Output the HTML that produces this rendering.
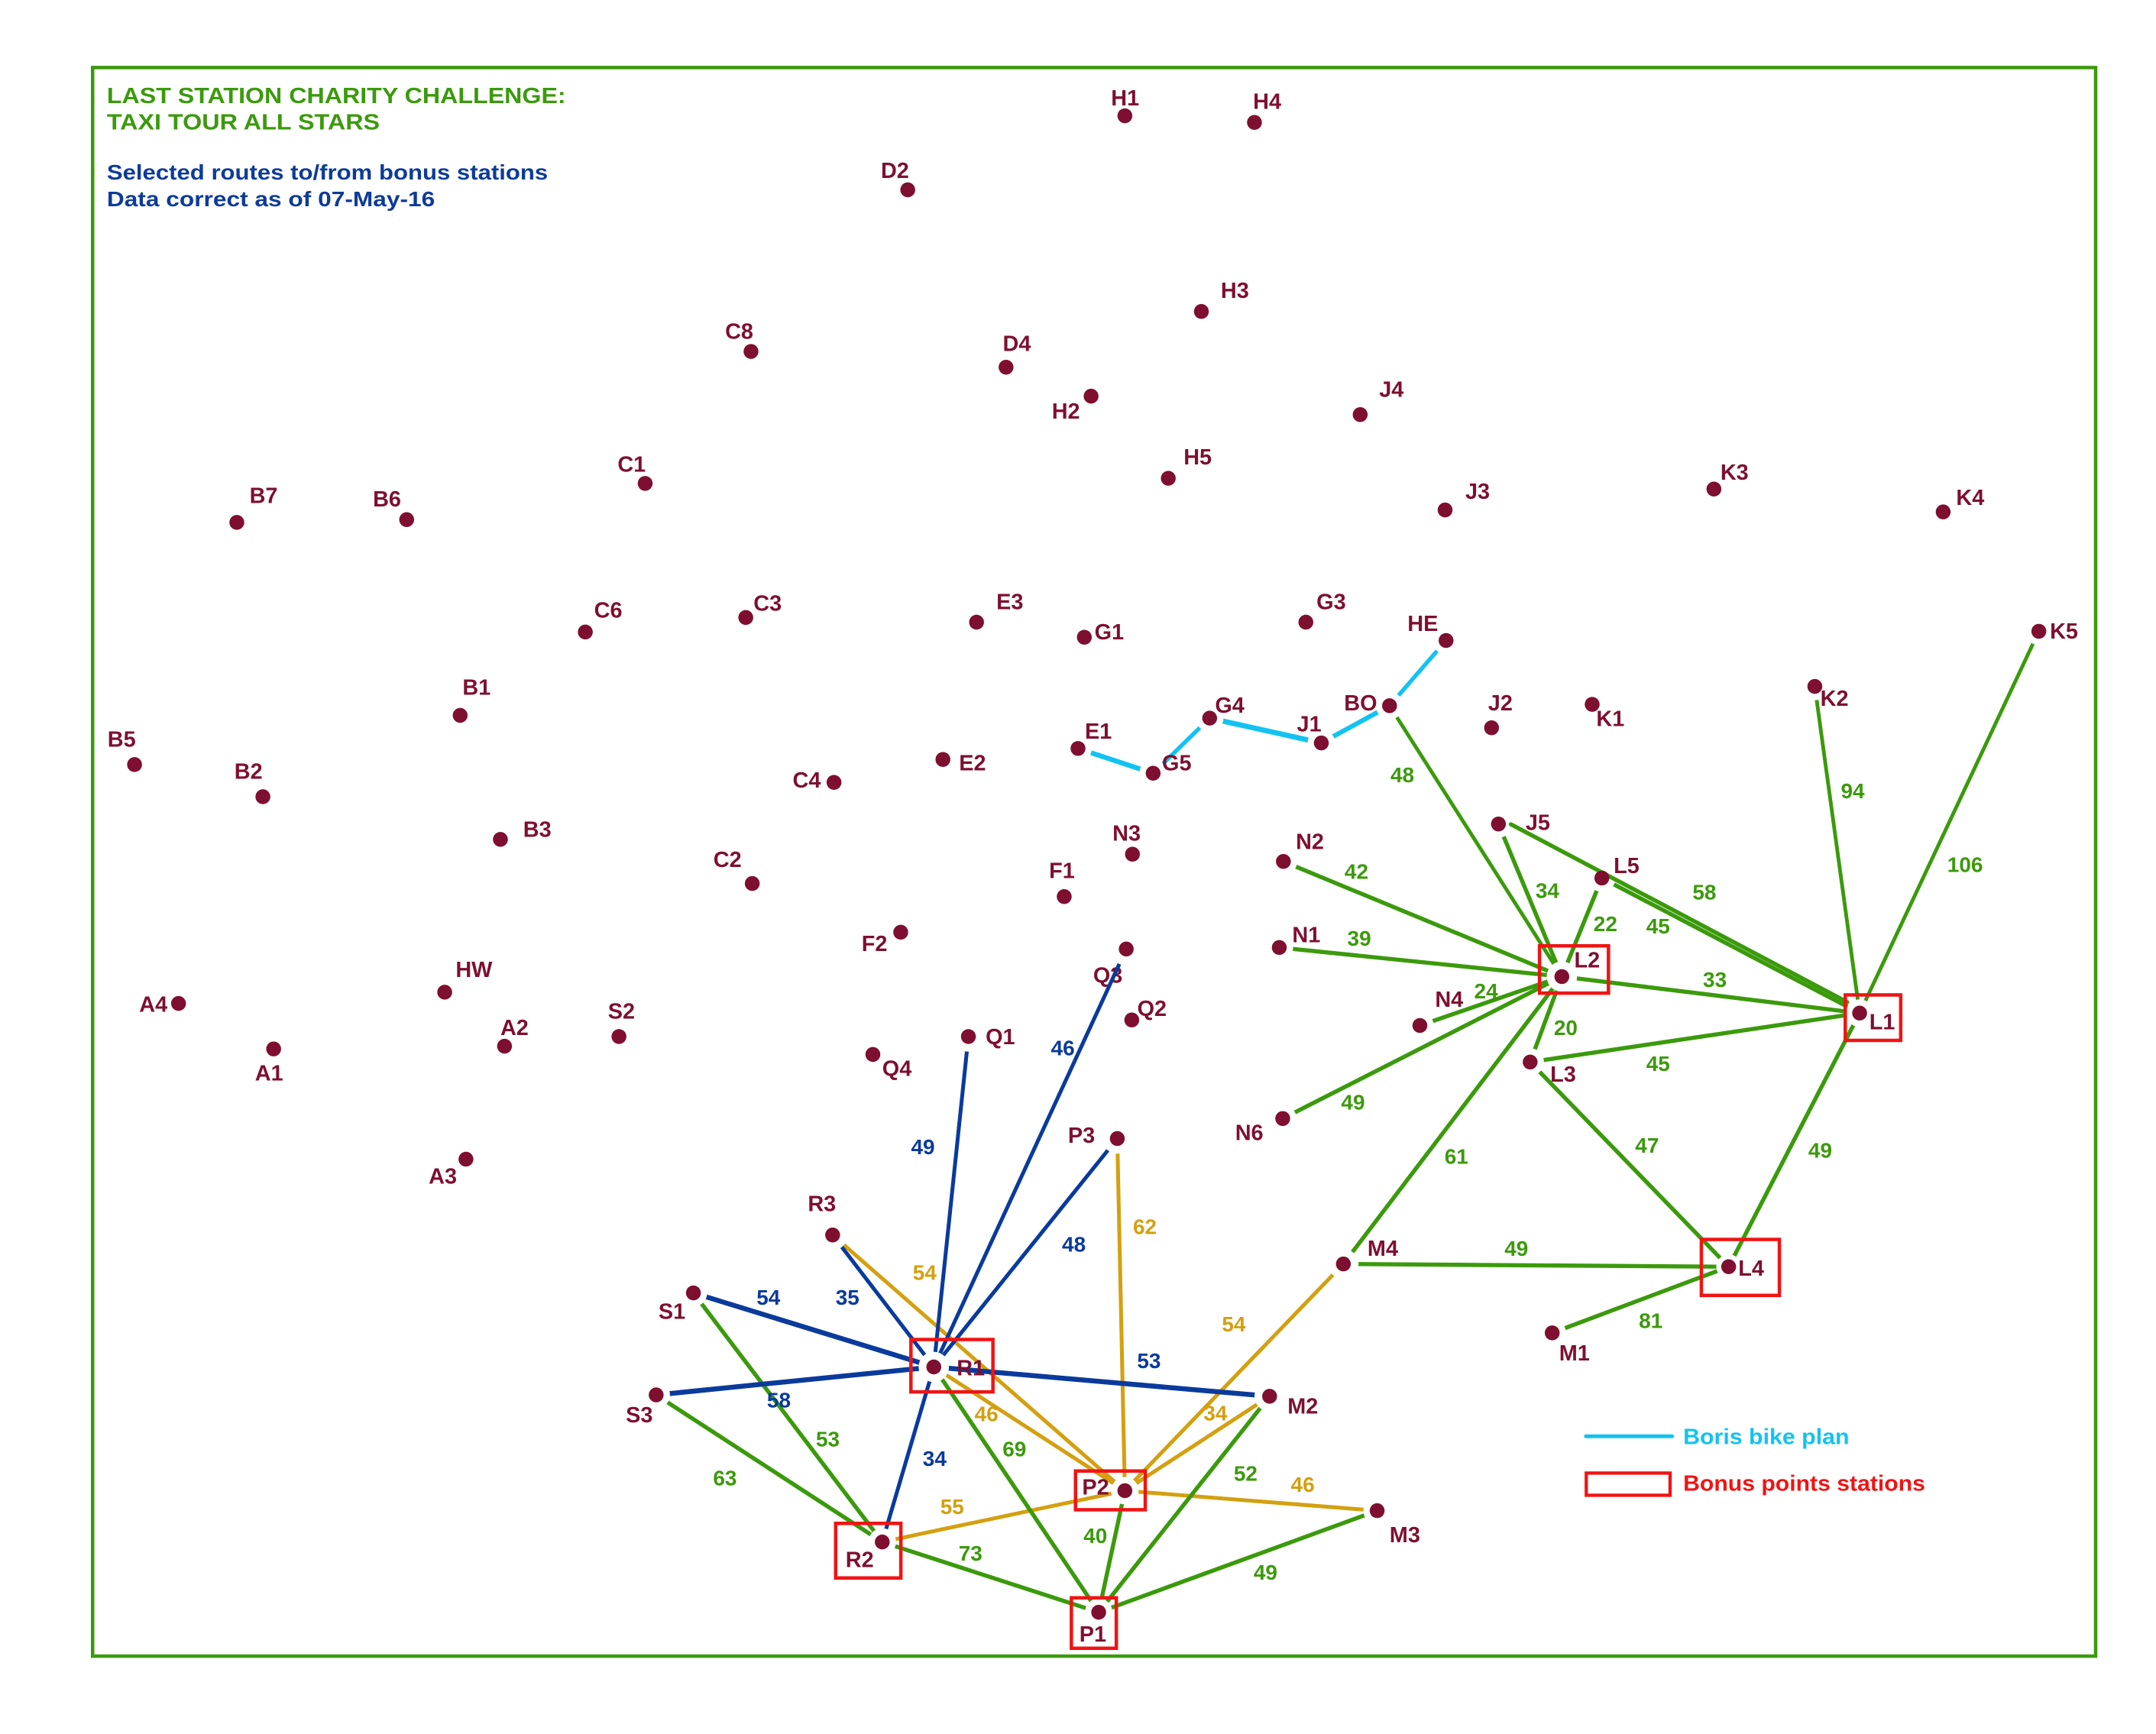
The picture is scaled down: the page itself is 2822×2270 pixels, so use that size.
<!DOCTYPE html>
<html>
<head>
<meta charset="utf-8">
<style>
html,body{margin:0;padding:0;background:#fff;}
svg{display:block;}
text{font-family:"Liberation Sans",Arial,sans-serif;font-weight:bold;}
.n{fill:#7e0f30;font-size:16px;}
.eb{fill:#0a3a9c;font-size:15.5px;text-anchor:middle;}
.eg{fill:#d4a010;font-size:15.5px;text-anchor:middle;}
.eG{fill:#3b9a0c;font-size:15.5px;text-anchor:middle;}
</style>
</head>
<body>
<svg width="2822" height="2270" viewBox="0 0 1564 1258" preserveAspectRatio="none" xmlns="http://www.w3.org/2000/svg">
<rect x="0" y="0" width="1564" height="1258" fill="#fff"/>
<defs>
<mask id="mk" maskUnits="userSpaceOnUse" x="0" y="0" width="1564" height="1258">
<rect x="0" y="0" width="1564" height="1258" fill="#fff"/>
<g fill="#000">
<circle cx="702.5" cy="752" r="11"/><circle cx="817" cy="688.5" r="12"/><circle cx="810.5" cy="826" r="11"/>
<circle cx="604" cy="896" r="11"/><circle cx="503" cy="938" r="10"/><circle cx="476" cy="1012" r="10"/>
<circle cx="677.4" cy="991.7" r="11"/><circle cx="921" cy="1013" r="11"/><circle cx="640" cy="1118.7" r="10"/>
<circle cx="816" cy="1081.5" r="10"/><circle cx="974.5" cy="917" r="11"/><circle cx="999" cy="1096" r="10"/>
<circle cx="797" cy="1169.7" r="10"/><circle cx="1133" cy="708.5" r="11"/><circle cx="1254" cy="919" r="9"/>
<circle cx="1126" cy="967" r="10"/><circle cx="1110" cy="770.5" r="10"/><circle cx="1349" cy="735" r="10"/>
<circle cx="930.5" cy="811.5" r="10"/><circle cx="1030" cy="744" r="10"/><circle cx="928" cy="687.4" r="10"/>
<circle cx="931" cy="625" r="10"/><circle cx="1008" cy="512" r="10"/><circle cx="1087" cy="597.8" r="10"/>
<circle cx="1162" cy="637" r="10"/><circle cx="1316.5" cy="498" r="10"/><circle cx="1479" cy="458" r="10"/>
<circle cx="782" cy="543" r="10"/><circle cx="836.5" cy="561" r="10"/><circle cx="877.5" cy="521" r="10"/>
<circle cx="958.5" cy="539" r="10"/><circle cx="1049" cy="464.7" r="10"/>
</g>
</mask>
</defs>

<!-- frame -->
<rect x="67.2" y="49" width="1453" height="1152.5" fill="none" stroke="#3b9a0c" stroke-width="2.5"/>

<!-- title -->
<text x="77.5" y="74.8" fill="#3b9a0c" font-size="16" textLength="333" lengthAdjust="spacingAndGlyphs">LAST STATION CHARITY CHALLENGE:</text>
<text x="77.5" y="94" fill="#3b9a0c" font-size="16" textLength="198" lengthAdjust="spacingAndGlyphs">TAXI TOUR ALL STARS</text>
<text x="77.5" y="130.3" fill="#0d3b99" font-size="15.5" textLength="320" lengthAdjust="spacingAndGlyphs">Selected routes to/from bonus stations</text>
<text x="77.5" y="149.7" fill="#0d3b99" font-size="15.5" textLength="238" lengthAdjust="spacingAndGlyphs">Data correct as of 07-May-16</text>

<!-- Q3 label under line -->
<text class="n" x="793" y="713">Q3</text>

<!-- connectors -->
<g mask="url(#mk)" stroke-linecap="round" fill="none">
<!-- cyan -->
<g stroke="#12c3f1">
<line x1="782" y1="543" x2="836.5" y2="561" stroke-width="3.6"/>
<line x1="836.5" y1="561" x2="877.5" y2="521" stroke-width="3"/>
<line x1="877.5" y1="521" x2="958.5" y2="539" stroke-width="3.8"/>
<line x1="958.5" y1="539" x2="1008" y2="512" stroke-width="3.4"/>
<line x1="1008" y1="512" x2="1049" y2="464.7" stroke-width="3"/>
</g>
<!-- gold -->
<g stroke="#d4a010" stroke-width="2.8">
<line x1="604" y1="896" x2="816" y2="1081.5"/>
<line x1="810.5" y1="826" x2="816" y2="1081.5"/>
<line x1="974.5" y1="917" x2="816" y2="1081.5"/>
<line x1="677.4" y1="991.7" x2="816" y2="1081.5"/>
<line x1="921" y1="1013" x2="816" y2="1081.5"/>
<line x1="816" y1="1081.5" x2="999" y2="1096"/>
<line x1="640" y1="1118.7" x2="816" y2="1081.5"/>
</g>
<!-- green -->
<g stroke="#3b9a0c" stroke-width="3">
<line x1="503" y1="938" x2="640" y2="1118.7"/>
<line x1="476" y1="1012" x2="640" y2="1118.7"/>
<line x1="677.4" y1="991.7" x2="797" y2="1169.7"/>
<line x1="816" y1="1081.5" x2="797" y2="1169.7"/>
<line x1="921" y1="1013" x2="797" y2="1169.7"/>
<line x1="999" y1="1096" x2="797" y2="1169.7"/>
<line x1="640" y1="1118.7" x2="797" y2="1169.7"/>
<line x1="974.5" y1="917" x2="1133" y2="708.5"/>
<line x1="974.5" y1="917" x2="1254" y2="919"/>
<line x1="1254" y1="919" x2="1126" y2="967"/>
<line x1="1110" y1="770.5" x2="1254" y2="919"/>
<line x1="1349" y1="735" x2="1254" y2="919"/>
<line x1="1110" y1="770.5" x2="1349" y2="735"/>
<line x1="1133" y1="708.5" x2="1349" y2="735"/>
<line x1="1133" y1="708.5" x2="1110" y2="770.5"/>
<line x1="930.5" y1="811.5" x2="1133" y2="708.5"/>
<line x1="1030" y1="744" x2="1133" y2="708.5"/>
<line x1="928" y1="687.4" x2="1133" y2="708.5"/>
<line x1="931" y1="625" x2="1133" y2="708.5"/>
<line x1="1008" y1="512" x2="1133" y2="708.5" stroke-width="2.7"/>
<line x1="1087" y1="597.8" x2="1133" y2="708.5"/>
<line x1="1162" y1="637" x2="1133" y2="708.5"/>
<line x1="1162" y1="637" x2="1349" y2="735"/>
<line x1="1316.5" y1="498" x2="1349" y2="735" stroke-width="2.7"/>
<line x1="1479" y1="458" x2="1349" y2="735" stroke-width="2.7"/>
</g>
<!-- blue -->
<g stroke="#0a3a9c" stroke-width="2.8">
<line x1="702.5" y1="752" x2="677.4" y2="991.7"/>
<line x1="817" y1="688.5" x2="677.4" y2="991.7"/>
<line x1="810.5" y1="826" x2="677.4" y2="991.7"/>
<line x1="604" y1="896" x2="677.4" y2="991.7"/>
<line x1="503" y1="938" x2="677.4" y2="991.7" stroke-width="3.6"/>
<line x1="476" y1="1012" x2="677.4" y2="991.7" stroke-width="3.6"/>
<line x1="677.4" y1="991.7" x2="921" y2="1013" stroke-width="3.6"/>
<line x1="677.4" y1="991.7" x2="640" y2="1118.7"/>
</g>
</g>
<!-- J5-L1 (passes just above L5, trimmed manually) -->
<line x1="1096" y1="598" x2="1340" y2="727" stroke="#3b9a0c" stroke-width="3" stroke-linecap="round"/>

<!-- bonus boxes -->
<g fill="none" stroke="#f01414" stroke-width="2.5">
<rect x="1116.8" y="686.2" width="50" height="34.3"/>
<rect x="1338.6" y="721.8" width="40.2" height="33"/>
<rect x="1234.2" y="899.2" width="56.6" height="40.6"/>
<rect x="660.8" y="971.8" width="59.5" height="38"/>
<rect x="780.2" y="1067.2" width="50.6" height="28.1"/>
<rect x="606.2" y="1105.2" width="47.3" height="39.6"/>
<rect x="777.2" y="1159.2" width="32.6" height="36.6"/>
</g>

<!-- dots -->
<g fill="#7e0f30">
<circle cx="816" cy="84" r="5.4"/><circle cx="910" cy="88.8" r="5.4"/><circle cx="658.5" cy="137.7" r="5.4"/>
<circle cx="871.5" cy="226" r="5.4"/><circle cx="544.8" cy="255" r="5.4"/><circle cx="729.8" cy="266.4" r="5.4"/>
<circle cx="791.5" cy="287.4" r="5.4"/><circle cx="986.7" cy="300.8" r="5.4"/><circle cx="468" cy="350.7" r="5.4"/>
<circle cx="847.5" cy="347" r="5.4"/><circle cx="171.8" cy="379" r="5.4"/><circle cx="295" cy="377" r="5.4"/>
<circle cx="1048.3" cy="370" r="5.4"/><circle cx="1243.3" cy="354.8" r="5.4"/><circle cx="1409.6" cy="371.4" r="5.4"/>
<circle cx="424.6" cy="458.5" r="5.4"/><circle cx="541" cy="448" r="5.4"/><circle cx="708.4" cy="451.4" r="5.4"/>
<circle cx="786.6" cy="462.3" r="5.4"/><circle cx="947.3" cy="451.4" r="5.4"/><circle cx="1049" cy="464.7" r="5.4"/>
<circle cx="1479" cy="458" r="5.4"/><circle cx="333.8" cy="519" r="5.4"/><circle cx="97.6" cy="554.7" r="5.4"/>
<circle cx="190.7" cy="578" r="5.4"/><circle cx="782" cy="543" r="5.4"/><circle cx="877.5" cy="521" r="5.4"/>
<circle cx="836.5" cy="561" r="5.4"/><circle cx="958.5" cy="539" r="5.4"/><circle cx="1008" cy="512" r="5.4"/>
<circle cx="1082" cy="528" r="5.4"/><circle cx="1155" cy="511" r="5.4"/><circle cx="1316.5" cy="498" r="5.4"/>
<circle cx="605" cy="567.6" r="5.4"/><circle cx="684" cy="551" r="5.4"/><circle cx="363" cy="609" r="5.4"/>
<circle cx="821.5" cy="619.7" r="5.4"/><circle cx="1087" cy="597.8" r="5.4"/><circle cx="545.7" cy="641" r="5.4"/>
<circle cx="772" cy="650.5" r="5.4"/><circle cx="931" cy="625" r="5.4"/><circle cx="1162" cy="637" r="5.4"/>
<circle cx="653.4" cy="676.3" r="5.4"/><circle cx="817" cy="688.5" r="5.4"/><circle cx="928" cy="687.4" r="5.4"/>
<circle cx="1133" cy="708.5" r="5.4"/><circle cx="322.6" cy="719.8" r="5.4"/><circle cx="129.5" cy="728" r="5.4"/>
<circle cx="1030" cy="744" r="5.4"/><circle cx="821" cy="740" r="5.4"/><circle cx="449" cy="752" r="5.4"/>
<circle cx="702.5" cy="752" r="5.4"/><circle cx="366" cy="759" r="5.4"/><circle cx="198.5" cy="761" r="5.4"/>
<circle cx="1349" cy="735" r="5.4"/><circle cx="1110" cy="770.5" r="5.4"/><circle cx="633.2" cy="765" r="5.4"/>
<circle cx="930.5" cy="811.5" r="5.4"/><circle cx="338" cy="841" r="5.4"/><circle cx="810.5" cy="826" r="5.4"/>
<circle cx="604" cy="896" r="5.4"/><circle cx="974.5" cy="917" r="5.4"/><circle cx="1254" cy="919" r="5.4"/>
<circle cx="503" cy="938" r="5.4"/><circle cx="1126" cy="967" r="5.4"/><circle cx="677.4" cy="991.7" r="5.4"/>
<circle cx="476" cy="1012" r="5.4"/><circle cx="921" cy="1013" r="5.4"/><circle cx="816" cy="1081.5" r="5.4"/>
<circle cx="999" cy="1096" r="5.4"/><circle cx="640" cy="1118.7" r="5.4"/><circle cx="797" cy="1169.7" r="5.4"/>
</g>

<!-- node labels -->
<text class="n" x="806" y="76.6">H1</text>
<text class="n" x="909" y="79">H4</text>
<text class="n" x="639" y="129">D2</text>
<text class="n" x="885.6" y="216">H3</text>
<text class="n" x="526" y="245.8">C8</text>
<text class="n" x="727.4" y="254.6">D4</text>
<text class="n" x="763" y="303.8">H2</text>
<text class="n" x="1000.5" y="288">J4</text>
<text class="n" x="448" y="342.3">C1</text>
<text class="n" x="858.6" y="337">H5</text>
<text class="n" x="181" y="365">B7</text>
<text class="n" x="270.5" y="367.5">B6</text>
<text class="n" x="1063" y="362">J3</text>
<text class="n" x="1248" y="348">K3</text>
<text class="n" x="1419" y="366.4">K4</text>
<text class="n" x="431" y="448">C6</text>
<text class="n" x="546.6" y="443">C3</text>
<text class="n" x="722.8" y="442">E3</text>
<text class="n" x="794" y="463.8">G1</text>
<text class="n" x="955" y="442">G3</text>
<text class="n" x="1021" y="457.7">HE</text>
<text class="n" x="1487" y="463.4">K5</text>
<text class="n" x="335.5" y="504">B1</text>
<text class="n" x="78" y="541.6">B5</text>
<text class="n" x="170" y="565">B2</text>
<text class="n" x="787" y="536">E1</text>
<text class="n" x="881.4" y="517">G4</text>
<text class="n" x="843" y="558.8">G5</text>
<text class="n" x="940.8" y="530.6">J1</text>
<text class="n" x="975" y="515.5">BO</text>
<text class="n" x="1079.5" y="515.5">J2</text>
<text class="n" x="1158" y="526.7">K1</text>
<text class="n" x="1320.5" y="512">K2</text>
<text class="n" x="575" y="571.5">C4</text>
<text class="n" x="695.7" y="559">E2</text>
<text class="n" x="379.5" y="607">B3</text>
<text class="n" x="807" y="610">N3</text>
<text class="n" x="1106.7" y="602">J5</text>
<text class="n" x="517.5" y="629">C2</text>
<text class="n" x="761" y="637">F1</text>
<text class="n" x="940" y="616">N2</text>
<text class="n" x="1170.6" y="633.4">L5</text>
<text class="n" x="625" y="690">F2</text>
<text class="n" x="937.4" y="683.5">N1</text>
<text class="n" x="1142" y="701.8">L2</text>
<text class="n" x="330.5" y="708.8">HW</text>
<text class="n" x="101" y="734">A4</text>
<text class="n" x="1041" y="730.5">N4</text>
<text class="n" x="825" y="737">Q2</text>
<text class="n" x="441" y="739">S2</text>
<text class="n" x="715" y="757.6">Q1</text>
<text class="n" x="363" y="751">A2</text>
<text class="n" x="185" y="784">A1</text>
<text class="n" x="1356" y="746.7">L1</text>
<text class="n" x="1124.6" y="784.6">L3</text>
<text class="n" x="640" y="780.6">Q4</text>
<text class="n" x="896" y="827">N6</text>
<text class="n" x="311" y="858.7">A3</text>
<text class="n" x="774.7" y="829">P3</text>
<text class="n" x="586" y="878.6">R3</text>
<text class="n" x="992" y="911">M4</text>
<text class="n" x="1261" y="925.5">L4</text>
<text class="n" x="477.7" y="956.8">S1</text>
<text class="n" x="1131" y="987">M1</text>
<text class="n" x="694" y="997.8">R1</text>
<text class="n" x="454" y="1032">S3</text>
<text class="n" x="934" y="1025.6">M2</text>
<text class="n" x="785" y="1084.3">P2</text>
<text class="n" x="1008" y="1119">M3</text>
<text class="n" x="613.4" y="1137">R2</text>
<text class="n" x="783" y="1191">P1</text>

<!-- edge labels: blue -->
<text class="eb" x="669.5" y="837.5">49</text>
<text class="eb" x="771" y="765.5">46</text>
<text class="eb" x="779" y="908">48</text>
<text class="eb" x="614.8" y="946.5">35</text>
<text class="eb" x="557.4" y="946.5">54</text>
<text class="eb" x="565" y="1021">58</text>
<text class="eb" x="833.5" y="992.5">53</text>
<text class="eb" x="678" y="1063.5">34</text>
<!-- gold -->
<text class="eg" x="670.8" y="928.5">54</text>
<text class="eg" x="830.5" y="895.2">62</text>
<text class="eg" x="895" y="966">54</text>
<text class="eg" x="715.6" y="1031">46</text>
<text class="eg" x="881.7" y="1030.5">34</text>
<text class="eg" x="945" y="1082.3">46</text>
<text class="eg" x="690.7" y="1098.5">55</text>
<!-- green -->
<text class="eG" x="600.5" y="1049.3">53</text>
<text class="eG" x="525.9" y="1077.5">63</text>
<text class="eG" x="735.9" y="1056.5">69</text>
<text class="eG" x="794.6" y="1119.5">40</text>
<text class="eG" x="903.6" y="1074.2">52</text>
<text class="eG" x="918" y="1146">49</text>
<text class="eG" x="704" y="1132.2">73</text>
<text class="eG" x="1056.5" y="844.2">61</text>
<text class="eG" x="1100" y="911">49</text>
<text class="eG" x="1197.5" y="963.5">81</text>
<text class="eG" x="1194.8" y="836.2">47</text>
<text class="eG" x="1320.4" y="840">49</text>
<text class="eG" x="1202.8" y="777.1">45</text>
<text class="eG" x="1244" y="715.9">33</text>
<text class="eG" x="1135.8" y="751">20</text>
<text class="eG" x="981.5" y="805">49</text>
<text class="eG" x="1078" y="724.2">24</text>
<text class="eG" x="986" y="686">39</text>
<text class="eG" x="984" y="637.5">42</text>
<text class="eG" x="1017.3" y="567.5">48</text>
<text class="eG" x="1122.5" y="651.5">34</text>
<text class="eG" x="1164.6" y="675.5">22</text>
<text class="eG" x="1236.4" y="652.5">58</text>
<text class="eG" x="1202.8" y="677.1">45</text>
<text class="eG" x="1344" y="579.1">94</text>
<text class="eG" x="1425.5" y="632.5">106</text>

<!-- legend -->
<line x1="1150.5" y1="1042" x2="1213" y2="1042" stroke="#12c3f1" stroke-width="2.8" stroke-linecap="round"/>
<text x="1221" y="1047.6" fill="#12c3f1" font-size="16" textLength="120.5" lengthAdjust="spacingAndGlyphs">Boris bike plan</text>
<rect x="1150.7" y="1068.7" width="60.8" height="16.1" fill="none" stroke="#f01414" stroke-width="2.4"/>
<text x="1221" y="1081.5" fill="#f01414" font-size="16" textLength="175.6" lengthAdjust="spacingAndGlyphs">Bonus points stations</text>
</svg>
</body>
</html>
